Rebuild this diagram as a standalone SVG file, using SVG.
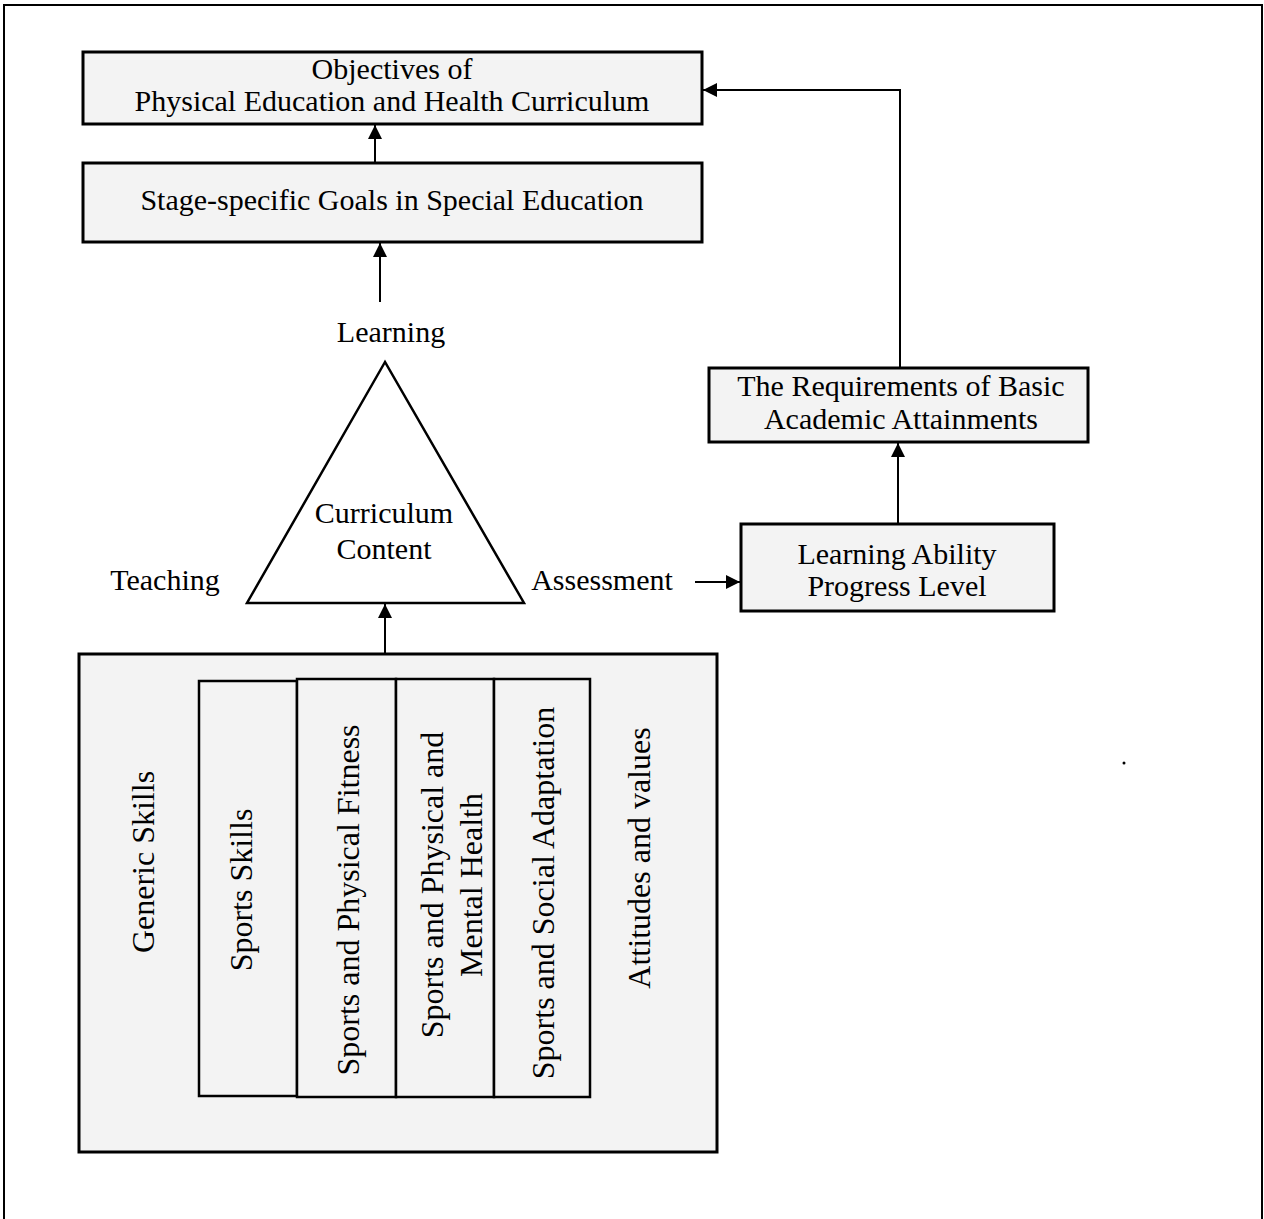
<svg xmlns="http://www.w3.org/2000/svg" width="1264" height="1219" viewBox="0 0 1264 1219">
<style>
.box{fill:#f3f3f3;stroke:#000;stroke-width:3}
.col{fill:#f3f3f3;stroke:#000;stroke-width:2.5}
.t{font-family:"Liberation Serif","Times New Roman",serif;font-size:30px;fill:#000;text-anchor:middle}
.r{font-family:"Liberation Serif","Times New Roman",serif;font-size:32px;fill:#000;text-anchor:middle}
.c{fill:none;stroke:#000;stroke-width:2}
</style>
<defs>
<marker id="ah2" viewBox="0 0 10 10" refX="10" refY="5" markerWidth="14" markerHeight="14" markerUnits="userSpaceOnUse" orient="auto">
<path d="M0,0 L10,5 L0,10 z" fill="#000"/>
</marker>
</defs>
<rect x="0" y="0" width="1264" height="1219" fill="#fff"/>
<path d="M4,1219 V5 H1262 V1219" fill="none" stroke="#000" stroke-width="2"/>
<g id="objectives">
<rect class="box" x="83" y="52" width="619" height="72"/>
<text class="t" x="392" y="79">Objectives of</text>
<text class="t" x="392" y="111">Physical Education and Health Curriculum</text>
</g>
<g id="stage">
<rect class="box" x="83" y="163" width="619" height="79"/>
<text class="t" x="392" y="210">Stage-specific Goals in Special Education</text>
</g>
<g id="learning-label"><text class="t" x="391" y="342">Learning</text></g>
<g id="triangle">
<polygon points="385,362 247,603 524,603" fill="#fff" stroke="#000" stroke-width="2.5"/>
<text class="t" x="384" y="523">Curriculum</text>
<text class="t" x="384" y="559">Content</text>
</g>
<g id="teaching-label"><text class="t" x="165" y="590">Teaching</text></g>
<g id="assessment-label"><text class="t" x="602" y="590">Assessment</text></g>
<g id="ability">
<rect class="box" x="741" y="524" width="313" height="87"/>
<text class="t" x="897" y="564">Learning Ability</text>
<text class="t" x="897" y="596">Progress Level</text>
</g>
<g id="requirements">
<rect class="box" x="709" y="368" width="379" height="74"/>
<text class="t" x="901" y="396">The Requirements of Basic</text>
<text class="t" x="901" y="429">Academic Attainments</text>
</g>
<g id="content-box">
<rect class="box" x="79" y="654" width="638" height="498"/>
<text class="r" transform="translate(154,862) rotate(-90)">Generic Skills</text>
<text class="r" transform="translate(650,858) rotate(-90)">Attitudes and values</text>
</g>
<g id="sports-skills">
<rect class="col" x="199" y="681" width="98" height="415"/>
<text class="r" transform="translate(252,890) rotate(-90)">Sports Skills</text>
</g>
<g id="sports-fitness">
<rect class="col" x="297" y="679" width="99" height="418"/>
<text class="r" transform="translate(359,900) rotate(-90)">Sports and Physical Fitness</text>
</g>
<g id="sports-health">
<rect class="col" x="396" y="679" width="98" height="418"/>
<text class="r" transform="translate(443,885) rotate(-90)">Sports and Physical and</text>
<text class="r" transform="translate(482,885) rotate(-90)">Mental Health</text>
</g>
<g id="sports-social">
<rect class="col" x="494" y="679" width="96" height="418"/>
<text class="r" transform="translate(554,893) rotate(-90)">Sports and Social Adaptation</text>
</g>
<g id="connectors">
<line class="c" x1="375" y1="163" x2="375" y2="125" marker-end="url(#ah2)"/>
<line class="c" x1="380" y1="302" x2="380" y2="243" marker-end="url(#ah2)"/>
<line class="c" x1="385" y1="654" x2="385" y2="604" marker-end="url(#ah2)"/>
<line class="c" x1="695" y1="582" x2="740" y2="582" marker-end="url(#ah2)"/>
<line class="c" x1="898" y1="524" x2="898" y2="443" marker-end="url(#ah2)"/>
<polyline class="c" points="900,368 900,90 703,90" marker-end="url(#ah2)"/>
</g>
<circle cx="1124" cy="763" r="1.5" fill="#000"/>
</svg>
